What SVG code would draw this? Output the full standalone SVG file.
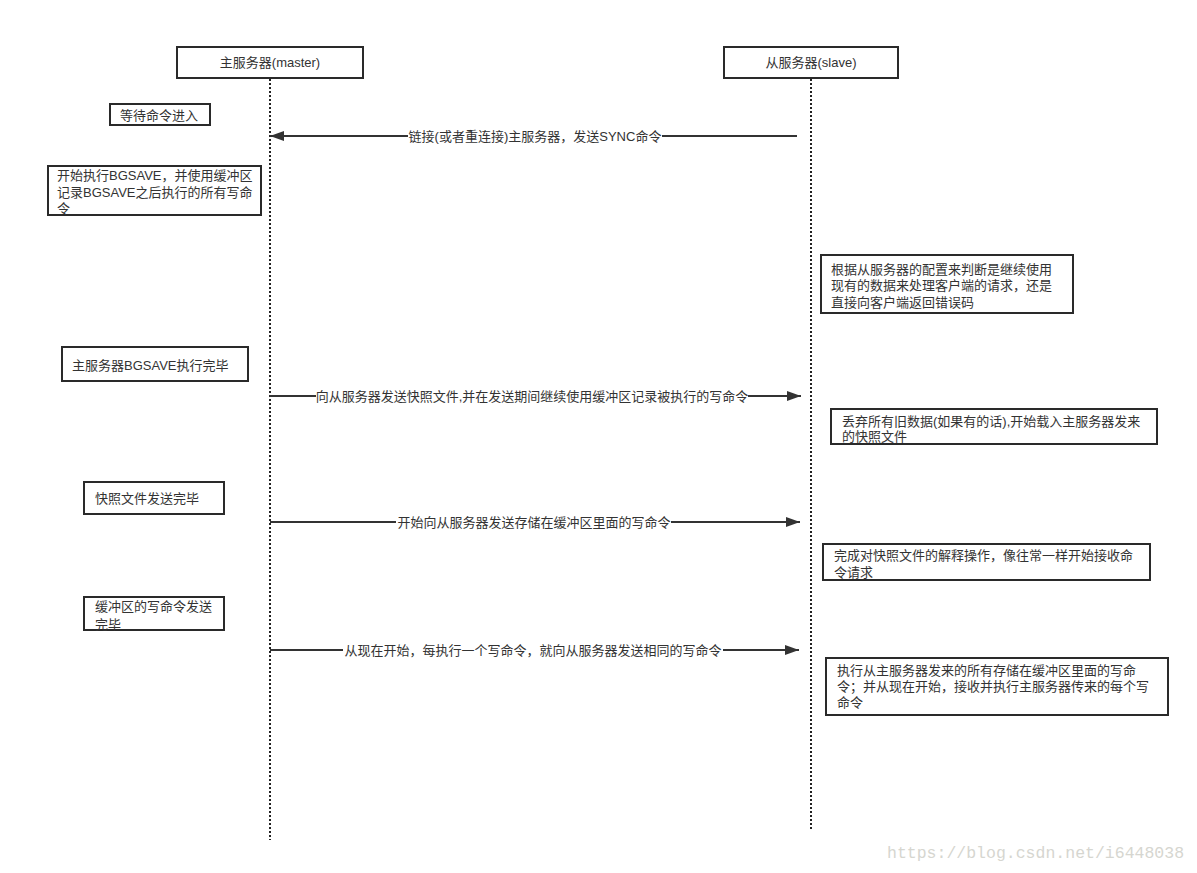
<svg xmlns="http://www.w3.org/2000/svg" width="1197" height="873" viewBox="0 0 1197 873">
<style>
text{font-family:"Liberation Sans","Noto Sans CJK SC",sans-serif;font-size:13px;fill:#333;}
.box{fill:#fff;stroke:#2a2a2a;stroke-width:2;}
.life{stroke:#222;stroke-width:2;stroke-dasharray:2 2;fill:none;}
.msg{stroke:#333;stroke-width:2;fill:none;}
.lbl{fill:#fff;}
.mid{text-anchor:middle;}
.wm{font-family:"Liberation Mono",monospace;font-size:16.5px;fill:#d6d6d0;}
</style>
<defs>
<marker id="ah" markerWidth="14" markerHeight="10" refX="14" refY="5" orient="auto" markerUnits="userSpaceOnUse">
<path d="M0,0 L14,5 L0,10 Z" fill="#333"/>
</marker>
</defs>
<rect width="1197" height="873" fill="#fff"/>
<g id="lifelines">
<line class="life" x1="270" y1="79" x2="270" y2="840"/>
<line class="life" x1="811" y1="79" x2="811" y2="830"/>
</g>
<g id="master">
<rect class="box" x="177" y="47" width="186" height="31"/>
<text class="mid" x="270" y="67">主服务器(master)</text>
</g>
<g id="slave">
<rect class="box" x="724" y="47" width="174" height="31"/>
<text class="mid" x="811" y="67">从服务器(slave)</text>
</g>
<g id="connectors">
<line class="msg" x1="797" y1="136" x2="270" y2="136" marker-end="url(#ah)"/>
<rect class="lbl" x="408" y="127" width="254" height="18"/>
<text class="mid" x="535" y="140.5">链接(或者重连接)主服务器，发送SYNC命令</text>
<line class="msg" x1="270" y1="396" x2="801" y2="396" marker-end="url(#ah)"/>
<rect class="lbl" x="316" y="387" width="432" height="18"/>
<text class="mid" x="532" y="400.5">向从服务器发送快照文件,并在发送期间继续使用缓冲区记录被执行的写命令</text>
<line class="msg" x1="270" y1="522" x2="800" y2="522" marker-end="url(#ah)"/>
<rect class="lbl" x="396" y="513" width="275" height="18"/>
<text class="mid" x="534" y="526.5">开始向从服务器发送存储在缓冲区里面的写命令</text>
<line class="msg" x1="270" y1="650" x2="799" y2="650" marker-end="url(#ah)"/>
<rect class="lbl" x="343" y="641" width="380" height="18"/>
<text class="mid" x="533" y="654.5">从现在开始，每执行一个写命令，就向从服务器发送相同的写命令</text>
</g>
<g id="n-wait">
<rect class="box" x="110" y="104" width="100" height="21"/>
<text x="120" y="119.5">等待命令进入</text>
</g>
<g id="n-bgsave">
<rect class="box" x="48" y="166" width="213" height="49"/>
<text x="57" y="180">开始执行BGSAVE，并使用缓冲区<tspan x="57" dy="16.5">记录BGSAVE之后执行的所有写命</tspan><tspan x="57" dy="16.5">令</tspan></text>
</g>
<g id="n-judge">
<rect class="box" x="821" y="255" width="252" height="58"/>
<text x="831" y="273.5">根据从服务器的配置来判断是继续使用<tspan x="831" dy="16.5">现有的数据来处理客户端的请求，还是</tspan><tspan x="831" dy="16.5">直接向客户端返回错误码</tspan></text>
</g>
<g id="n-bgdone">
<rect class="box" x="62" y="347" width="186" height="34"/>
<text x="72" y="369.5">主服务器BGSAVE执行完毕</text>
</g>
<g id="n-load">
<rect class="box" x="831" y="409" width="326" height="35"/>
<text x="842" y="426">丢弃所有旧数据(如果有的话),开始载入主服务器发来<tspan x="842" dy="15">的快照文件</tspan></text>
</g>
<g id="n-snapdone">
<rect class="box" x="84" y="482" width="140" height="32"/>
<text x="95" y="502.5">快照文件发送完毕</text>
</g>
<g id="n-ready">
<rect class="box" x="823" y="544" width="327" height="36"/>
<text x="834" y="559.5">完成对快照文件的解释操作，像往常一样开始接收命<tspan x="834" dy="17.5">令请求</tspan></text>
</g>
<g id="n-bufdone">
<rect class="box" x="84" y="597" width="140" height="33"/>
<text x="95" y="611">缓冲区的写命令发送<tspan x="95" dy="17.5">完毕</tspan></text>
</g>
<g id="n-exec">
<rect class="box" x="826" y="658" width="342" height="57"/>
<text x="837" y="674.5">执行从主服务器发来的所有存储在缓冲区里面的写命<tspan x="837" dy="16">令；并从现在开始，接收并执行主服务器传来的每个写</tspan><tspan x="837" dy="16.5">命令</tspan></text>
</g>
<text class="wm" x="887" y="858">https://blog.csdn.net/i6448038</text>
</svg>
